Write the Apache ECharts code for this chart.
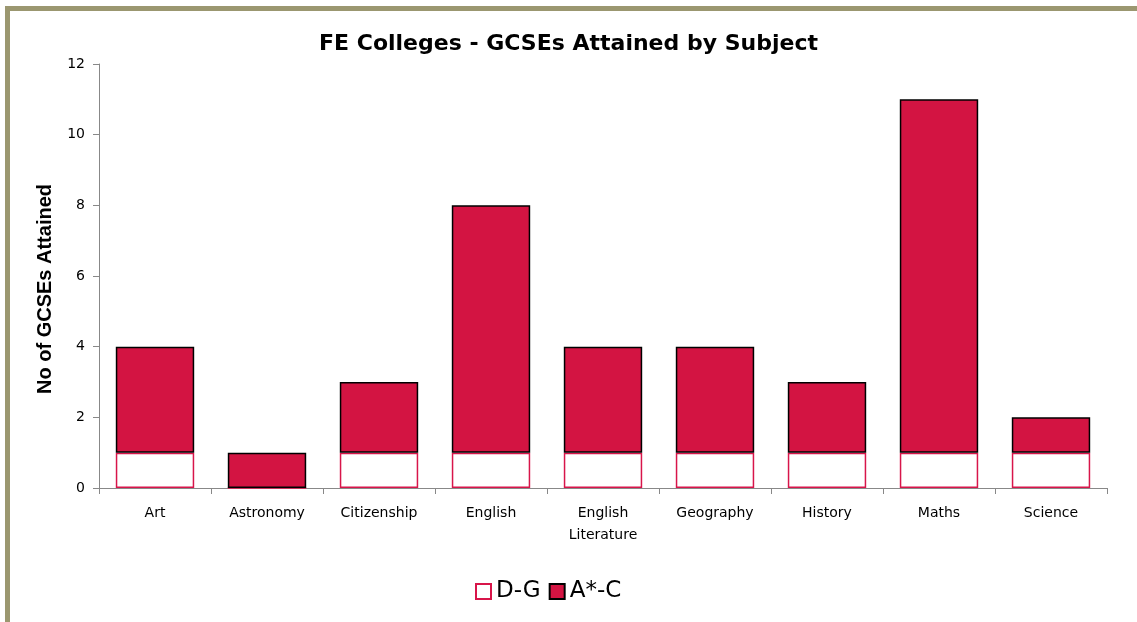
<!DOCTYPE html>
<html><head><meta charset="utf-8">
<script src="https://cdn.jsdelivr.net/npm/echarts@6/dist/echarts.min.js"></script>
<style>html,body{margin:0;padding:0;background:#fff}#c{width:1137px;height:622px}</style>
</head><body><div id="c"></div>
<script>
const categories = ['Art','Astronomy','Citizenship','English','English\nLiterature','Geography','History','Maths','Science'];
const dgValues = [1,0,1,1,1,1,1,1,1];
const acValues = [3,1,2,7,3,3,2,10,1];
const yTicks = {min:0, max:12, interval:2};
const yTitle = 'No of GCSEs Attained';

const chart = echarts.init(document.getElementById('c'));
chart.setOption({
  animation:false,
  backgroundColor:'#fff',
  graphic:[
    {type:'rect', shape:{x:7.5, y:8.5, width:1300, height:800}, style:{fill:'none', stroke:'#9b9770', lineWidth:5}, z:-1},
    {type:'text', x:45, y:289, rotation:Math.PI/2,
     style:{text:yTitle, fontFamily:'Liberation Sans', fontWeight:'bold', fontSize:20, fill:'#000', textAlign:'center', textVerticalAlign:'middle'}}
  ],
  title:{text:'FE Colleges - GCSEs Attained by Subject', left:'center', top:28,
    textStyle:{fontFamily:'DejaVu Sans', fontWeight:'bold', fontSize:22, color:'#000'}},
  legend:{bottom:14, left:470, itemWidth:15, itemHeight:15, itemGap:8, icon:'rect',
    textStyle:{fontFamily:'DejaVu Sans', fontSize:23, color:'#000'},
    data:['D-G','A*-C']},
  grid:{left:99, right:30, top:64, bottom:134},
  xAxis:{type:'category', data:categories,
    axisLine:{lineStyle:{color:'#888', width:1}},
    axisTick:{show:true, alignWithLabel:false, length:6, lineStyle:{color:'#888'}},
    axisLabel:{color:'#000', fontFamily:'DejaVu Sans', fontSize:14, margin:14, lineHeight:22, interval:0}},
  yAxis:{type:'value', min:yTicks.min, max:yTicks.max, interval:yTicks.interval,
    splitLine:{show:false},
    axisLine:{show:true, lineStyle:{color:'#888'}},
    axisTick:{show:true, length:6, lineStyle:{color:'#888'}},
    axisLabel:{color:'#000', fontFamily:'DejaVu Sans', fontSize:14, margin:14}},
  series:[
    {name:'D-G', type:'bar', stack:'a', data:dgValues, barCategoryGap:'30%',
     itemStyle:{color:'#fff', borderColor:'#d8154a', borderWidth:1.5}},
    {name:'A*-C', type:'bar', stack:'a', data:acValues, barCategoryGap:'30%',
     itemStyle:{color:'#d31442', borderColor:'#000', borderWidth:1.5}}
  ]
});
</script></body></html>
